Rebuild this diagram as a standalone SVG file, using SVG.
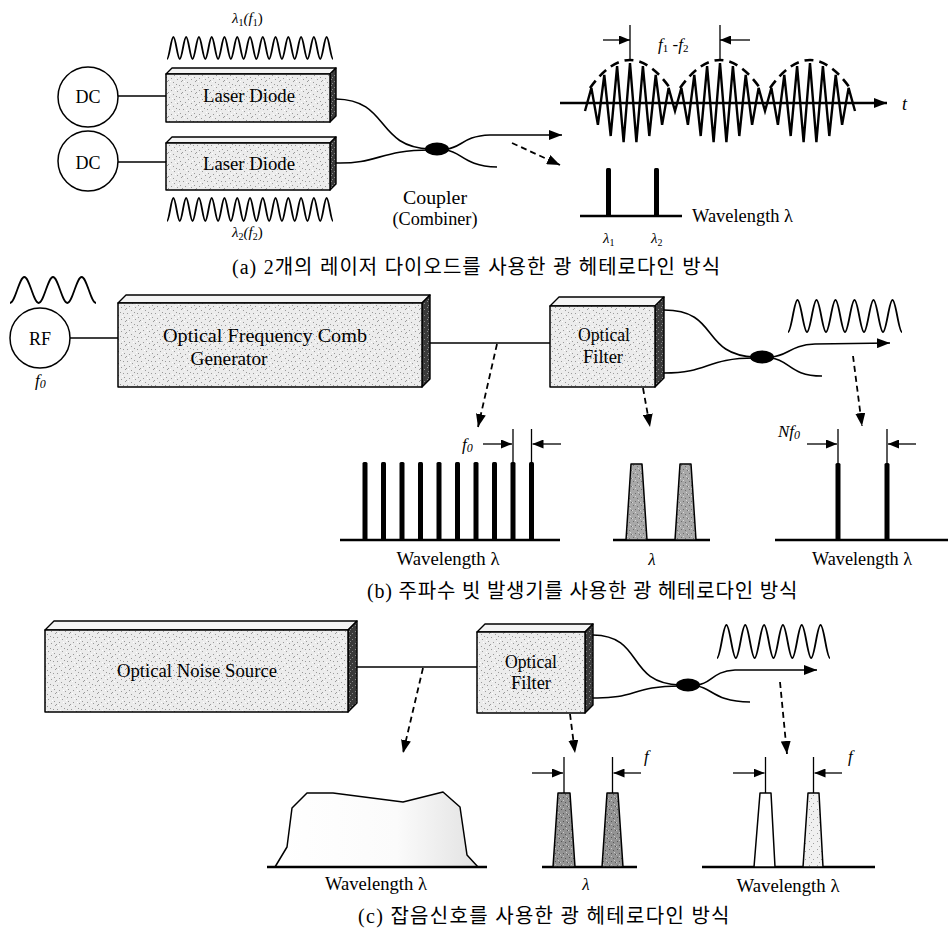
<svg xmlns="http://www.w3.org/2000/svg" width="948" height="930" viewBox="0 0 948 930">
<style>
.lbl{font-family:"Liberation Serif",serif;font-size:18px;fill:#000}
.it{font-family:"Liberation Serif",serif;font-style:italic;fill:#000}
.cap{font-family:"Liberation Serif","Noto Sans CJK KR",serif;font-size:20px;fill:#000}
.ln{fill:none;stroke:#000;stroke-width:1.5}
.fib{fill:none;stroke:#000;stroke-width:1.6}
.dash{fill:none;stroke:#000;stroke-width:1.8;stroke-dasharray:6 4}
.wave{fill:none;stroke:#000;stroke-width:1.8}
.face{fill:url(#pL);stroke:#000;stroke-width:1.5;stroke-linejoin:round}
.top{fill:#f4f4f4;stroke:#000;stroke-width:1.4;stroke-linejoin:round}
.side{fill:url(#pD);stroke:#000;stroke-width:1.4;stroke-linejoin:round}
.base{stroke:#000;stroke-width:2.4}
.bar{fill:#000}
.mk{stroke:#000;stroke-width:1.3}
.trap{stroke:#000;stroke-width:1.5;stroke-linejoin:round}
</style>
<defs>
<pattern id="pL" width="14" height="12" patternUnits="userSpaceOnUse">
<rect width="14" height="12" fill="#ececec"/>
<path d="M1 1h1v1h-1zM6 3h1v1h-1zM11 1h1v1h-1zM3 6h1v1h-1zM9 7h1v1h-1zM13 9h1v1h-1zM5 10h1v1h-1zM0 8h1v1h-1zM8 0h1v1h-1zM12 5h1v1h-1z" fill="#9a9a9a"/>
<path d="M4 2h1v1h-1zM10 4h1v1h-1zM2 9h1v1h-1zM7 6h1v1h-1z" fill="#ffffff"/>
</pattern>
<pattern id="pD" width="6" height="6" patternUnits="userSpaceOnUse">
<rect width="6" height="6" fill="#3a3a3a"/>
<path d="M1 1h1v1h-1zM4 3h1v1h-1zM2 5h1v1h-1z" fill="#8a8a8a"/>
</pattern>
<pattern id="pM" width="8" height="8" patternUnits="userSpaceOnUse">
<rect width="8" height="8" fill="#a8a8a8"/>
<path d="M1 1h1v1h-1zM5 2h1v1h-1zM3 5h1v1h-1zM7 6h1v1h-1z" fill="#6e6e6e"/>
<path d="M3 0h1v1h-1zM6 4h1v1h-1zM0 6h1v1h-1z" fill="#d6d6d6"/>
</pattern>
<pattern id="pC" width="8" height="8" patternUnits="userSpaceOnUse">
<rect width="8" height="8" fill="#939393"/>
<path d="M1 1h1v1h-1zM5 2h1v1h-1zM3 5h1v1h-1zM7 6h1v1h-1z" fill="#555555"/>
<path d="M3 0h1v1h-1zM6 4h1v1h-1zM0 6h1v1h-1z" fill="#c8c8c8"/>
</pattern>
<pattern id="pR" width="8" height="8" patternUnits="userSpaceOnUse">
<rect width="8" height="8" fill="#f0f0f0"/>
<path d="M1 1h1v1h-1zM5 3h1v1h-1zM3 6h1v1h-1z" fill="#a0a0a0"/>
</pattern>
<linearGradient id="gN" x1="0" y1="0" x2="1" y2="0">
<stop offset="0" stop-color="#ffffff"/>
<stop offset="0.6" stop-color="#fbfbfb"/>
<stop offset="1" stop-color="#e2e2e2"/>
</linearGradient>
<marker id="ah" markerUnits="userSpaceOnUse" markerWidth="13" markerHeight="10" refX="13" refY="5" orient="auto" viewBox="0 0 13 10"><path d="M0 0L13 5L0 10z" fill="#000"/></marker>
<marker id="as" markerUnits="userSpaceOnUse" markerWidth="11" markerHeight="9" refX="11" refY="4.5" orient="auto" viewBox="0 0 11 9"><path d="M0 0L11 4.5L0 9z" fill="#000"/></marker>
</defs>
<rect width="948" height="930" fill="#fff"/>

<!-- ================= (a) ================= -->
<g id="dc1">
<circle cx="88" cy="97" r="30" class="ln" fill="#fff"/>
<text class="lbl" x="88" y="103" text-anchor="middle">DC</text>
</g>
<g id="dc2">
<circle cx="88" cy="161" r="30" class="ln" fill="#fff"/>
<text class="lbl" x="88" y="169" text-anchor="middle">DC</text>
</g>
<g id="ld1">
<polygon class="top" points="166,74 172,68 336,68 330,74"/>
<polygon class="side" points="330,74 336,68 336,116 330,122"/>
<rect class="face" x="166" y="74" width="164" height="48"/>
<text class="lbl" x="249" y="102" text-anchor="middle" textLength="92" lengthAdjust="spacingAndGlyphs">Laser Diode</text>
<path class="wave" d="M167 59c2.3 0 4.09 -22 6.385 -22s4.09 22 6.385 22s4.09 -22 6.385 -22s4.09 22 6.385 22s4.09 -22 6.385 -22s4.09 22 6.385 22s4.09 -22 6.385 -22s4.09 22 6.385 22s4.09 -22 6.385 -22s4.09 22 6.385 22s4.09 -22 6.385 -22s4.09 22 6.385 22s4.09 -22 6.385 -22s4.09 22 6.385 22s4.09 -22 6.385 -22s4.09 22 6.385 22s4.09 -22 6.385 -22s4.09 22 6.385 22s4.09 -22 6.385 -22s4.09 22 6.385 22s4.09 -22 6.385 -22s4.09 22 6.385 22s4.09 -22 6.385 -22s4.09 22 6.385 22s4.09 -22 6.385 -22s4.09 22 6.385 22"/>
<text class="it" x="232" y="23" font-size="15">λ<tspan font-size="10" dy="3" font-style="normal">1</tspan><tspan dy="-3">(f</tspan><tspan font-size="10" dy="3" font-style="normal">1</tspan><tspan dy="-3" font-style="normal">)</tspan></text>
</g>
<g id="ld2">
<polygon class="top" points="166,143 172,137 336,137 330,143"/>
<polygon class="side" points="330,143 336,137 336,184 330,190"/>
<rect class="face" x="166" y="143" width="164" height="47"/>
<text class="lbl" x="249" y="170" text-anchor="middle" textLength="92" lengthAdjust="spacingAndGlyphs">Laser Diode</text>
<path class="wave" d="M167 221c2.3 0 4.09 -23 6.385 -23s4.09 23 6.385 23s4.09 -23 6.385 -23s4.09 23 6.385 23s4.09 -23 6.385 -23s4.09 23 6.385 23s4.09 -23 6.385 -23s4.09 23 6.385 23s4.09 -23 6.385 -23s4.09 23 6.385 23s4.09 -23 6.385 -23s4.09 23 6.385 23s4.09 -23 6.385 -23s4.09 23 6.385 23s4.09 -23 6.385 -23s4.09 23 6.385 23s4.09 -23 6.385 -23s4.09 23 6.385 23s4.09 -23 6.385 -23s4.09 23 6.385 23s4.09 -23 6.385 -23s4.09 23 6.385 23s4.09 -23 6.385 -23s4.09 23 6.385 23s4.09 -23 6.385 -23s4.09 23 6.385 23"/>
<text class="it" x="232" y="237" font-size="15">λ<tspan font-size="10" dy="3" font-style="normal">2</tspan><tspan dy="-3">(f</tspan><tspan font-size="10" dy="3" font-style="normal">2</tspan><tspan dy="-3" font-style="normal">)</tspan></text>
</g>
<g id="coupler-a">
<ellipse cx="437" cy="149" rx="12" ry="6.5" fill="#000"/>
<text class="lbl" x="435" y="204" text-anchor="middle" textLength="64" lengthAdjust="spacingAndGlyphs">Coupler</text>
<text class="lbl" x="435" y="225" text-anchor="middle" textLength="85" lengthAdjust="spacingAndGlyphs">(Combiner)</text>
</g>
<g id="beat-a">
<line class="base" x1="560" y1="103" x2="887" y2="103" stroke-width="2" marker-end="url(#ah)"/>
<text class="it" x="902" y="110" font-size="18">t</text>
<polyline fill="none" stroke="#000" stroke-width="2.4" stroke-linejoin="miter" points="585,111 591.4,87.9 597.9,124.9 604.3,75 610.7,136 617.1,66.2 623.6,142.2 630,63 636.4,142.2 642.9,66.2 649.3,136 655.7,75 662.1,124.9 668.6,87.9 675,111 681.4,87.9 687.9,124.9 694.3,75 700.7,136 707.1,66.2 713.6,142.2 720,63 726.4,142.2 732.9,66.2 739.3,136 745.7,75 752.1,124.9 758.6,87.9 765,111 771.4,87.9 777.9,124.9 784.3,75 790.7,136 797.1,66.2 803.6,142.2 810,63 816.4,142.2 822.9,66.2 829.3,136 835.7,75 842.1,124.9 848.6,87.9 855,111"/>
<path fill="none" stroke="#000" stroke-width="2.6" stroke-dasharray="9 6" d="M590 88Q630 32 670 88M680 88Q720 32 760 88M770 88Q810 32 850 88"/>
<line class="mk" x1="630" y1="25" x2="630" y2="61"/>
<line class="mk" x1="720" y1="25" x2="720" y2="61"/>
<line class="mk" x1="603" y1="40" x2="630" y2="40" marker-end="url(#as)"/>
<line class="mk" x1="750" y1="40" x2="720" y2="40" marker-end="url(#as)"/>
<text class="it" x="658" y="50" font-size="17">f<tspan font-size="11" dy="2" font-style="normal">1</tspan><tspan dy="-2" font-style="normal"> -</tspan>f<tspan font-size="11" dy="2" font-style="normal">2</tspan></text>
</g>
<g id="spec-a">
<line class="base" x1="580" y1="216" x2="682" y2="216"/>
<rect class="bar" x="606" y="168" width="5" height="48" rx="1.5"/>
<rect class="bar" x="654" y="168" width="5" height="48" rx="1.5"/>
<text class="it" x="603" y="243" font-size="15">λ<tspan font-size="10" dy="3" font-style="normal">1</tspan></text>
<text class="it" x="651" y="243" font-size="15">λ<tspan font-size="10" dy="3" font-style="normal">2</tspan></text>
<text class="lbl" x="692" y="222" textLength="101" lengthAdjust="spacingAndGlyphs">Wavelength λ</text>
</g>
<text class="cap" x="232" y="274" letter-spacing="1" word-spacing="0.5">(a) 2개의 레이저 다이오드를 사용한 광 헤테로다인 방식</text>

<!-- ================= (b) ================= -->
<g id="rf">
<path class="wave" d="M10 303c5.16 0 9.17 -26 14.33 -26s9.17 26 14.33 26s9.17 -26 14.33 -26s9.17 26 14.33 26s9.17 -26 14.33 -26s9.17 26 14.33 26"/>
<circle cx="40" cy="338" r="30" class="ln" fill="#fff"/>
<text class="lbl" x="40" y="345" text-anchor="middle">RF</text>
<text class="it" x="35" y="386" font-size="17">f<tspan font-size="12" dy="2">0</tspan></text>
</g>
<g id="ofcg">
<polygon class="top" points="118,303 126,295 430,295 422,303"/>
<polygon class="side" points="422,303 430,295 430,379 422,387"/>
<rect class="face" x="118" y="303" width="304" height="84"/>
<text class="lbl" x="265" y="342" text-anchor="middle" textLength="204" lengthAdjust="spacingAndGlyphs">Optical Frequency Comb</text>
<text class="lbl" x="229" y="365" text-anchor="middle" textLength="77" lengthAdjust="spacingAndGlyphs">Generator</text>
</g>
<g id="filter-b">
<polygon class="top" points="550,306 559,297 664,297 655,306"/>
<polygon class="side" points="655,306 664,297 664,378 655,387"/>
<rect class="face" x="550" y="306" width="105" height="81"/>
<text class="lbl" x="604" y="341" text-anchor="middle" textLength="52" lengthAdjust="spacingAndGlyphs">Optical</text>
<text class="lbl" x="603" y="363" text-anchor="middle" textLength="40" lengthAdjust="spacingAndGlyphs">Filter</text>
</g>
<g id="coupler-b">
<ellipse cx="762" cy="357" rx="12" ry="6.5" fill="#000"/>
<path class="wave" d="M788 332c3.42 0 6.08 -32 9.5 -32s6.08 32 9.5 32s6.08 -32 9.5 -32s6.08 32 9.5 32s6.08 -32 9.5 -32s6.08 32 9.5 32s6.08 -32 9.5 -32s6.08 32 9.5 32s6.08 -32 9.5 -32s6.08 32 9.5 32s6.08 -32 9.5 -32s6.08 32 9.5 32"/>
</g>
<g id="comb-spec">
<line class="base" x1="340" y1="540" x2="560" y2="540"/>
<rect class="bar" x="362.5" y="462" width="5" height="78" rx="1.5"/>
<rect class="bar" x="381" y="462" width="5" height="78" rx="1.5"/>
<rect class="bar" x="399.5" y="462" width="5" height="78" rx="1.5"/>
<rect class="bar" x="418" y="462" width="5" height="78" rx="1.5"/>
<rect class="bar" x="436.5" y="462" width="5" height="78" rx="1.5"/>
<rect class="bar" x="455" y="462" width="5" height="78" rx="1.5"/>
<rect class="bar" x="473.5" y="462" width="5" height="78" rx="1.5"/>
<rect class="bar" x="492" y="462" width="5" height="78" rx="1.5"/>
<rect class="bar" x="510.5" y="462" width="5" height="78" rx="1.5"/>
<rect class="bar" x="529" y="462" width="5" height="78" rx="1.5"/>
<line class="mk" x1="513" y1="429" x2="513" y2="463"/>
<line class="mk" x1="531.5" y1="429" x2="531.5" y2="463"/>
<line class="mk" x1="483" y1="444" x2="512" y2="444" marker-end="url(#as)"/>
<line class="mk" x1="561" y1="444" x2="532.5" y2="444" marker-end="url(#as)"/>
<text class="it" x="462" y="450" font-size="17">f<tspan font-size="12" dy="2">0</tspan></text>
<text class="lbl" x="448" y="565" text-anchor="middle" textLength="103" lengthAdjust="spacingAndGlyphs">Wavelength λ</text>
</g>
<g id="filter-spec-b">
<line class="base" x1="613" y1="540" x2="710" y2="540"/>
<polygon class="trap" fill="url(#pM)" points="626,540 631,464 642,464 647,540"/>
<polygon class="trap" fill="url(#pM)" points="675,540 680,464 691,464 696,540"/>
<text class="it" x="652" y="565" font-size="17" text-anchor="middle">λ</text>
</g>
<g id="beat-spec-b">
<line class="base" x1="775" y1="540" x2="948" y2="540"/>
<rect class="bar" x="835.5" y="463" width="5" height="77" rx="1.5"/>
<rect class="bar" x="884.5" y="463" width="5" height="77" rx="1.5"/>
<line class="mk" x1="838" y1="429" x2="838" y2="464"/>
<line class="mk" x1="887" y1="429" x2="887" y2="464"/>
<line class="mk" x1="807" y1="444" x2="837" y2="444" marker-end="url(#as)"/>
<line class="mk" x1="916" y1="444" x2="888" y2="444" marker-end="url(#as)"/>
<text class="it" x="778" y="437" font-size="17">Nf<tspan font-size="12" dy="2">0</tspan></text>
<text class="lbl" x="862" y="565" text-anchor="middle" textLength="100" lengthAdjust="spacingAndGlyphs">Wavelength λ</text>
</g>
<text class="cap" x="367" y="598" letter-spacing="0.8">(b) 주파수 빗 발생기를 사용한 광 헤테로다인 방식</text>

<!-- ================= (c) ================= -->
<g id="noise-source">
<polygon class="top" points="45,630 54,621 357,621 348,630"/>
<polygon class="side" points="348,630 357,621 357,703 348,712"/>
<rect class="face" x="45" y="630" width="303" height="82"/>
<text class="lbl" x="197" y="677" text-anchor="middle" textLength="160" lengthAdjust="spacingAndGlyphs">Optical Noise Source</text>
</g>
<g id="filter-c">
<polygon class="top" points="477,632 485,624 593,624 585,632"/>
<polygon class="side" points="585,632 593,624 593,705 585,713"/>
<rect class="face" x="477" y="632" width="108" height="81"/>
<text class="lbl" x="531" y="668" text-anchor="middle" textLength="52" lengthAdjust="spacingAndGlyphs">Optical</text>
<text class="lbl" x="531" y="689" text-anchor="middle" textLength="40" lengthAdjust="spacingAndGlyphs">Filter</text>
</g>
<g id="coupler-c">
<ellipse cx="688" cy="685" rx="12" ry="6.5" fill="#000"/>
<path class="wave" d="M717 658c3.39 0 6.03 -33 9.415 -33s6.03 33 9.415 33s6.03 -33 9.415 -33s6.03 33 9.415 33s6.03 -33 9.415 -33s6.03 33 9.415 33s6.03 -33 9.415 -33s6.03 33 9.415 33s6.03 -33 9.415 -33s6.03 33 9.415 33s6.03 -33 9.415 -33s6.03 33 9.415 33"/>
</g>
<g id="noise-spec">
<polygon class="trap" fill="url(#gN)" points="275,867 287,847 292,808 307,793 333,793 403,802 443,792 460,807 467,855 478,867"/>
<line class="base" x1="267" y1="867" x2="487" y2="867"/>
<text class="lbl" x="376" y="890" text-anchor="middle" textLength="102" lengthAdjust="spacingAndGlyphs">Wavelength λ</text>
</g>
<g id="filter-spec-c">
<line class="base" x1="542" y1="867" x2="637" y2="867"/>
<polygon class="trap" fill="url(#pC)" points="553,867 558,793 570,793 575,867"/>
<polygon class="trap" fill="url(#pC)" points="602,867 607,793 618,793 623,867"/>
<line class="mk" x1="564" y1="757" x2="564" y2="793"/>
<line class="mk" x1="612.5" y1="757" x2="612.5" y2="793"/>
<line class="mk" x1="532" y1="773" x2="563" y2="773" marker-end="url(#as)"/>
<line class="mk" x1="641" y1="773" x2="613.5" y2="773" marker-end="url(#as)"/>
<text class="it" x="644" y="762" font-size="17">f</text>
<text class="it" x="586" y="890" font-size="17" text-anchor="middle">λ</text>
</g>
<g id="beat-spec-c">
<line class="base" x1="702" y1="867" x2="875" y2="867"/>
<polygon class="trap" fill="#fff" points="754,867 760,793 771,793 775,867"/>
<polygon class="trap" fill="url(#pR)" points="803,867 808,793 819,793 823,867"/>
<line class="mk" x1="765.5" y1="757" x2="765.5" y2="793"/>
<line class="mk" x1="813.5" y1="757" x2="813.5" y2="793"/>
<line class="mk" x1="733" y1="773" x2="764.5" y2="773" marker-end="url(#as)"/>
<line class="mk" x1="842" y1="773" x2="814.5" y2="773" marker-end="url(#as)"/>
<text class="it" x="848" y="762" font-size="17">f</text>
<text class="lbl" x="788" y="892" text-anchor="middle" textLength="103" lengthAdjust="spacingAndGlyphs">Wavelength λ</text>
</g>
<text class="cap" x="358" y="923" letter-spacing="1.3">(c) 잡음신호를 사용한 광 헤테로다인 방식</text>

<!-- ================= connectors ================= -->
<g id="connectors">
<line class="ln" x1="118" y1="96" x2="166" y2="96"/>
<line class="ln" x1="118" y1="162" x2="166" y2="162"/>
<path class="fib" d="M336 99C390 100 375 147 430 149"/>
<path class="fib" d="M336 163C378 164 380 150 430 150"/>
<path class="fib" d="M446 149C462 148 462 136 490 135L562 135" marker-end="url(#ah)"/>
<path class="fib" d="M446 150C462 152 464 166 497 167"/>
<line class="dash" x1="512" y1="143" x2="560" y2="165" marker-end="url(#ah)"/>

<line class="ln" x1="70" y1="338" x2="118" y2="338"/>
<line class="ln" x1="430" y1="343" x2="550" y2="343"/>
<path class="fib" d="M664 310C720 310 700 355 755 357"/>
<path class="fib" d="M664 373C710 373 705 358 755 358"/>
<path class="fib" d="M771 357C788 356 790 345 815 344L890 343" marker-end="url(#ah)"/>
<path class="fib" d="M771 358C790 360 790 376 822 376"/>
<line class="dash" x1="497" y1="344" x2="478" y2="427" marker-end="url(#ah)"/>
<line class="dash" x1="643" y1="388" x2="650" y2="427" marker-end="url(#ah)"/>
<line class="dash" x1="853" y1="356" x2="862" y2="426" marker-end="url(#ah)"/>

<line class="ln" x1="357" y1="667" x2="477" y2="667"/>
<path class="fib" d="M593 635C645 636 625 683 680 685"/>
<path class="fib" d="M593 698C636 699 632 686 680 686"/>
<path class="fib" d="M697 685C712 684 712 671 735 670L817 670" marker-end="url(#ah)"/>
<path class="fib" d="M697 686C712 688 715 702 750 702"/>
<line class="dash" x1="423" y1="668" x2="403" y2="753" marker-end="url(#ah)"/>
<line class="dash" x1="570" y1="714" x2="575" y2="753" marker-end="url(#ah)"/>
<line class="dash" x1="780" y1="682" x2="787" y2="754" marker-end="url(#ah)"/>
</g>
</svg>
